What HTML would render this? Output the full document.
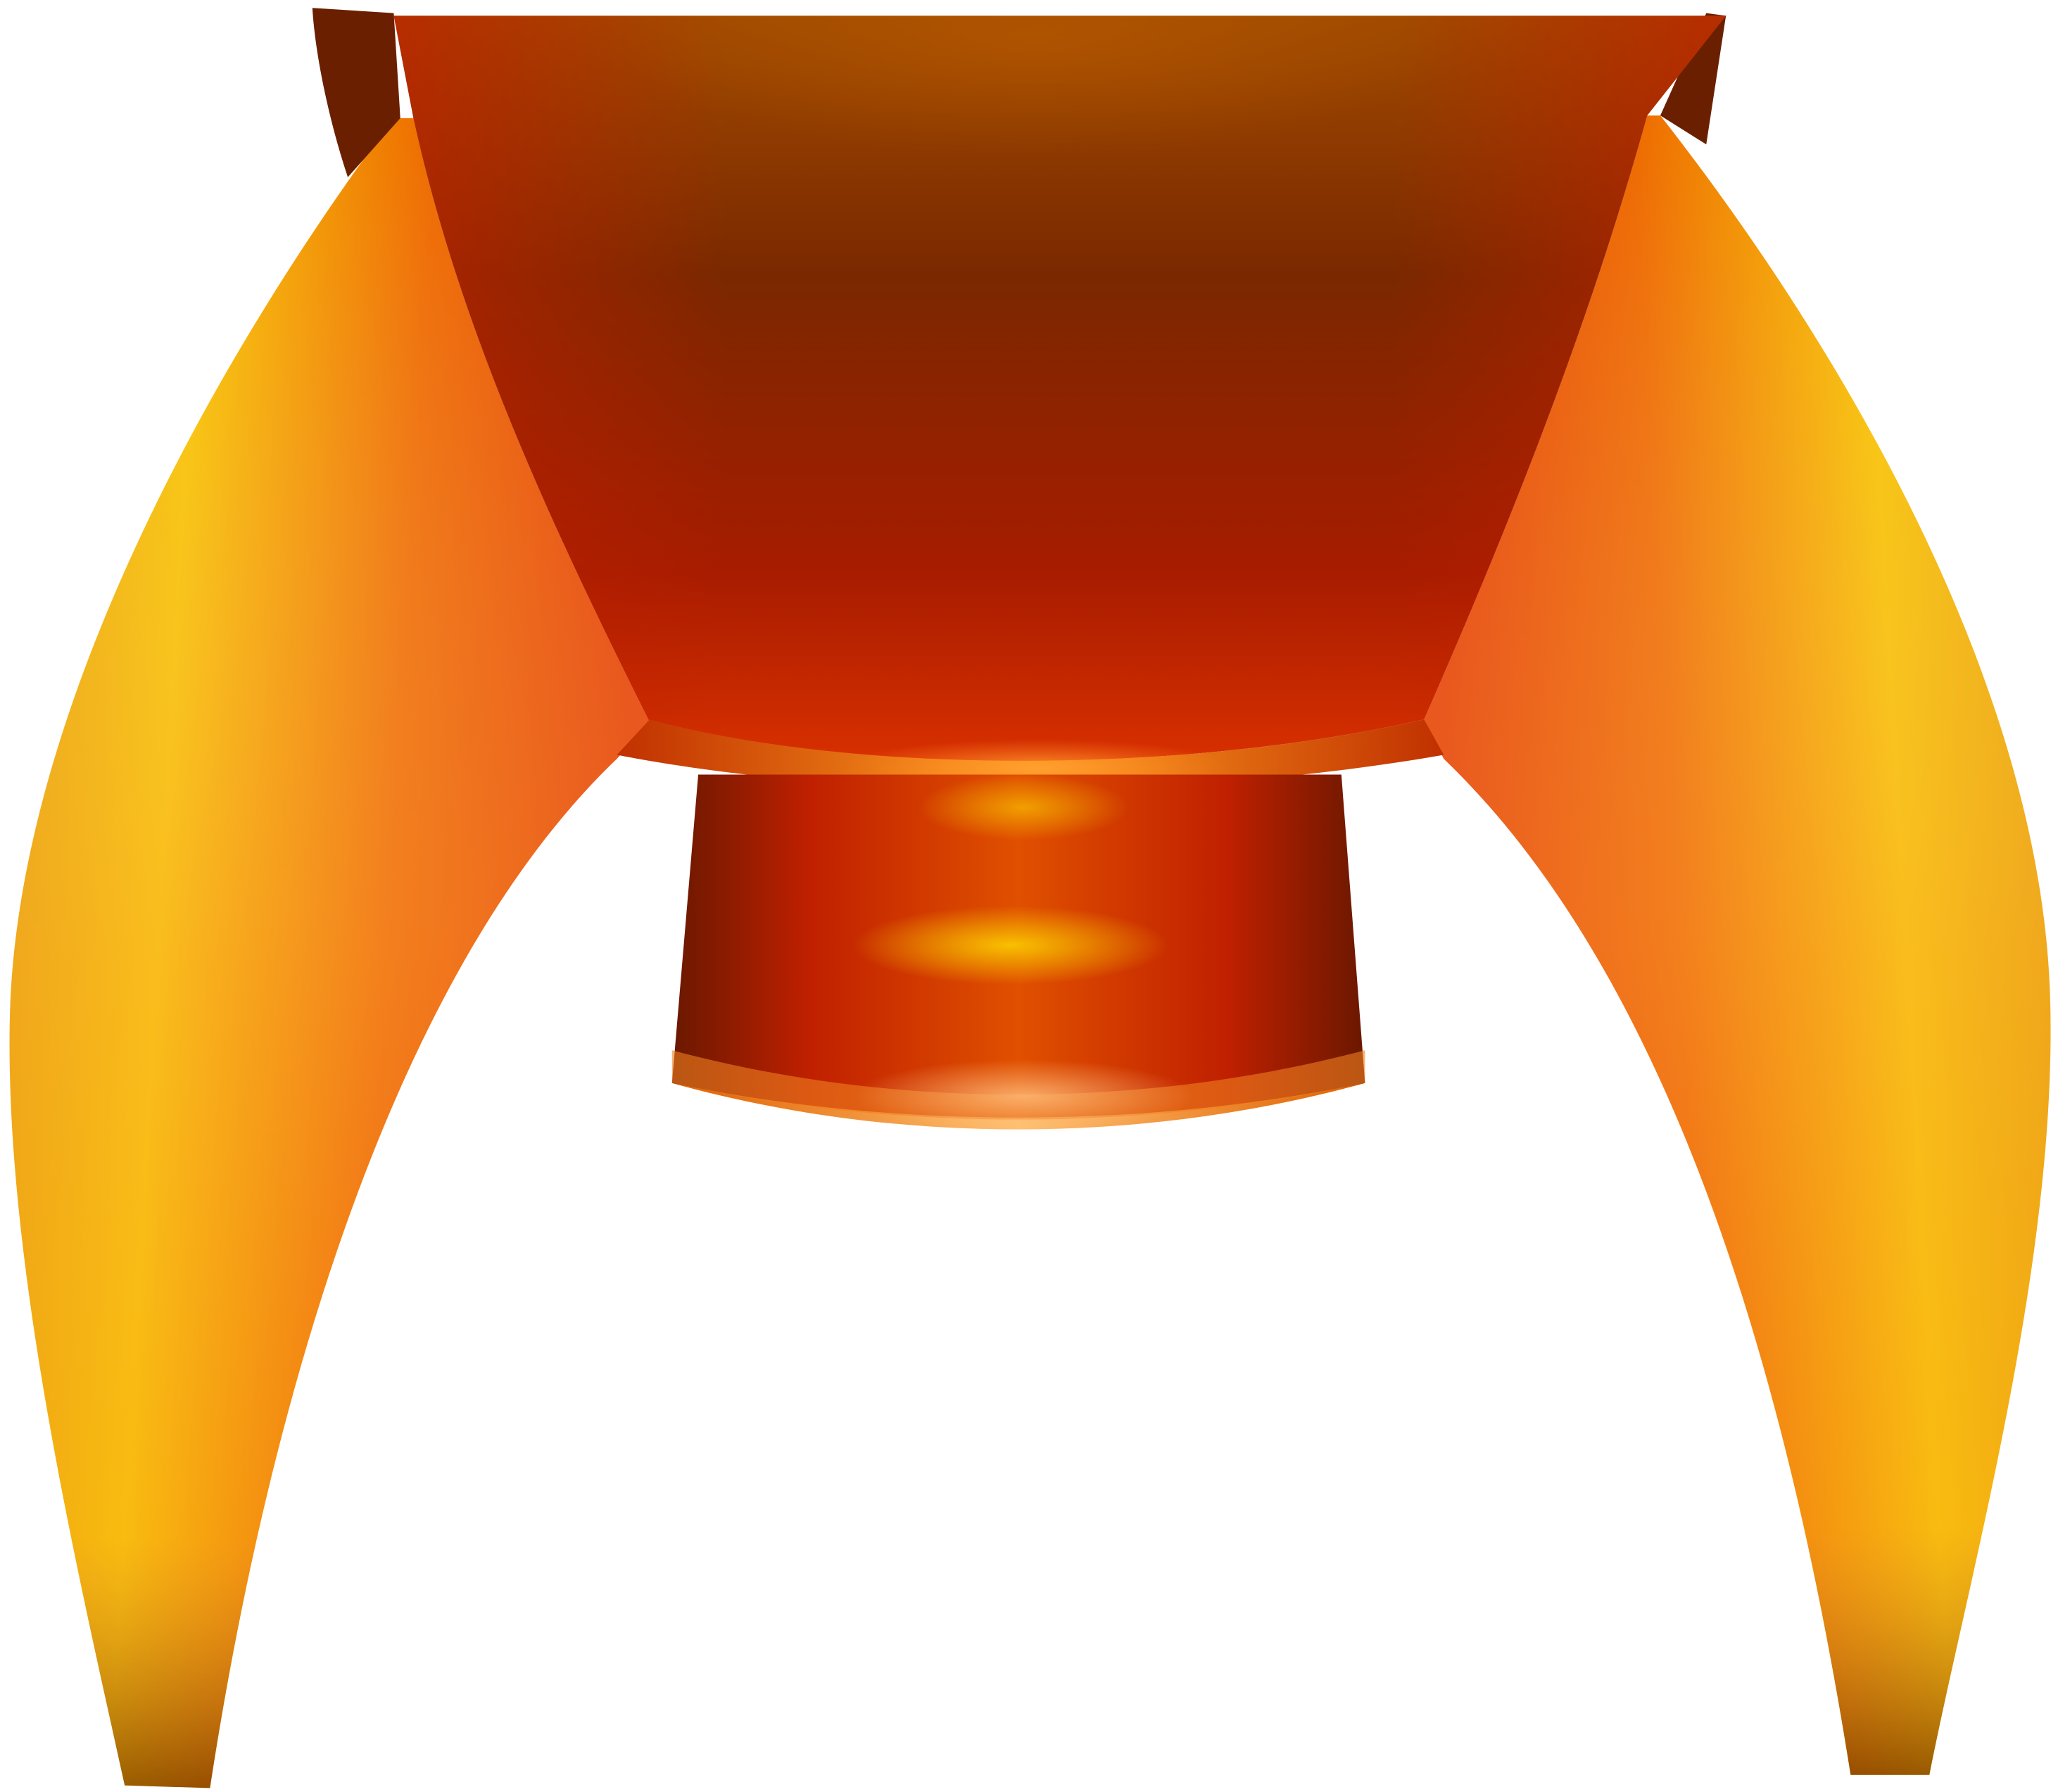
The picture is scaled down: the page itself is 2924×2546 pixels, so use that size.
<!DOCTYPE html>
<html><head><meta charset="utf-8"><style>
html,body{margin:0;padding:0;background:#fff;}
svg{display:block;}
</style></head><body>
<svg width="2924" height="2546" viewBox="0 0 1568 1365" preserveAspectRatio="none" xmlns="http://www.w3.org/2000/svg">
<defs>
<linearGradient id="legL" x1="0" y1="0" x2="1" y2="0.15">
<stop offset="0" stop-color="#7a2a00"/>
<stop offset="0.04" stop-color="#e8a000"/>
<stop offset="0.3" stop-color="#f7c200"/>
<stop offset="0.65" stop-color="#ee6a00"/>
<stop offset="1" stop-color="#e33a00"/>
</linearGradient>
<linearGradient id="legR" x1="1" y1="0" x2="0" y2="0.15">
<stop offset="0" stop-color="#7a2a00"/>
<stop offset="0.04" stop-color="#e8a000"/>
<stop offset="0.3" stop-color="#f7c200"/>
<stop offset="0.65" stop-color="#ee6a00"/>
<stop offset="1" stop-color="#e33a00"/>
</linearGradient>
<linearGradient id="legFade" x1="0" y1="0" x2="0" y2="1">
<stop offset="0" stop-color="#fff" stop-opacity="0"/>
<stop offset="0.5" stop-color="#ffb060" stop-opacity="0.3"/>
<stop offset="0.85" stop-color="#ffa050" stop-opacity="0.2"/>
<stop offset="1" stop-color="#5a1a00" stop-opacity="0.6"/>
</linearGradient>
<linearGradient id="bowl" x1="0" y1="0" x2="0" y2="1">
<stop offset="0" stop-color="#a04a00"/>
<stop offset="0.35" stop-color="#7a2800"/>
<stop offset="0.75" stop-color="#a81c00"/>
<stop offset="1" stop-color="#d83000"/>
</linearGradient>
<linearGradient id="bowlSide" x1="0" y1="0" x2="1" y2="0">
<stop offset="0" stop-color="#c02000" stop-opacity="0.7"/>
<stop offset="0.25" stop-color="#c02000" stop-opacity="0"/>
<stop offset="0.75" stop-color="#c02000" stop-opacity="0"/>
<stop offset="1" stop-color="#c02000" stop-opacity="0.7"/>
</linearGradient>
<linearGradient id="rim" x1="0" y1="0" x2="1" y2="0">
<stop offset="0" stop-color="#c03000"/>
<stop offset="0.5" stop-color="#ffa020"/>
<stop offset="1" stop-color="#c03000"/>
</linearGradient>
<linearGradient id="cyl" x1="0" y1="0" x2="1" y2="0">
<stop offset="0" stop-color="#6a1800"/>
<stop offset="0.2" stop-color="#c02000"/>
<stop offset="0.5" stop-color="#e05000"/>
<stop offset="0.8" stop-color="#c02000"/>
<stop offset="1" stop-color="#6a1800"/>
</linearGradient>
<radialGradient id="glow" cx="0.5" cy="0.5" r="0.5">
<stop offset="0" stop-color="#f8c000"/>
<stop offset="1" stop-color="#f8c000" stop-opacity="0"/>
</radialGradient>
<radialGradient id="glowO" cx="0.5" cy="0.5" r="0.5">
<stop offset="0" stop-color="#ffa030"/>
<stop offset="1" stop-color="#ff8020" stop-opacity="0"/>
</radialGradient>
<radialGradient id="glowP" cx="0.5" cy="0.5" r="0.5">
<stop offset="0" stop-color="#ffc080"/>
<stop offset="1" stop-color="#ffc080" stop-opacity="0"/>
</radialGradient>
<radialGradient id="glowTop" cx="0.5" cy="0.5" r="0.5">
<stop offset="0" stop-color="#c06000" stop-opacity="0.5"/>
<stop offset="1" stop-color="#c06000" stop-opacity="0"/>
</radialGradient>
<linearGradient id="cylBot" x1="0" y1="0" x2="1" y2="0">
<stop offset="0" stop-color="#e06000"/>
<stop offset="0.5" stop-color="#ffc070"/>
<stop offset="1" stop-color="#e06000"/>
</linearGradient>
<clipPath id="bowlClip"><path d="M300,12 L1315,12 L1255,88 C1210,250 1150,400 1085,548 C900,590 650,590 495,550 C420,400 350,250 315,90 Z"/></clipPath>
</defs>

<path d="M300,90 C180,250 20,520 8,760 C0,950 60,1200 95,1360 L160,1362 C200,1100 290,750 470,578 L495,550 C420,400 350,250 315,90 Z" fill="url(#legL)"/>
<path d="M300,90 C180,250 20,520 8,760 C0,950 60,1200 95,1360 L160,1362 C200,1100 290,750 470,578 L495,550 C420,400 350,250 315,90 Z" fill="url(#legFade)"/>
<path d="M1265,88 C1400,260 1555,520 1562,760 C1568,960 1500,1200 1470,1352 L1410,1352 C1370,1100 1290,760 1100,578 L1085,548 C1150,400 1210,250 1255,88 Z" fill="url(#legR)"/>
<path d="M1265,88 C1400,260 1555,520 1562,760 C1568,960 1500,1200 1470,1352 L1410,1352 C1370,1100 1290,760 1100,578 L1085,548 C1150,400 1210,250 1255,88 Z" fill="url(#legFade)"/>

<path d="M238,6 L300,10 L305,90 L265,135 C250,90 240,40 238,6 Z" fill="#6a2000"/>
<path d="M1300,10 L1315,12 L1300,110 L1265,88 Z" fill="#6a2000"/>

<path d="M300,12 L1315,12 L1255,88 C1210,250 1150,400 1085,548 C900,590 650,590 495,550 C420,400 350,250 315,90 Z" fill="url(#bowl)"/>
<path d="M300,12 L1315,12 L1255,88 C1210,250 1150,400 1085,548 C900,590 650,590 495,550 C420,400 350,250 315,90 Z" fill="url(#bowlSide)"/>
<g clip-path="url(#bowlClip)">
<ellipse cx="790" cy="30" rx="320" ry="90" fill="url(#glowTop)"/>
</g>
<path d="M470,575 L495,548 C650,590 900,590 1085,548 L1100,575 C900,610 650,610 470,575 Z" fill="url(#rim)"/>
<ellipse cx="790" cy="585" rx="150" ry="22" fill="url(#glowO)" opacity="0.9"/>

<path d="M532,590 L1022,590 L1040,825 C870,870 680,870 512,825 Z" fill="url(#cyl)"/>
<ellipse cx="770" cy="720" rx="120" ry="30" fill="url(#glow)"/>
<ellipse cx="780" cy="615" rx="80" ry="25" fill="url(#glow)" opacity="0.7"/>
<path d="M512,825 C680,860 870,860 1040,825 C870,872 680,872 512,825 Z" fill="url(#cylBot)"/>
<path d="M512,800 C680,845 870,845 1040,800 L1040,825 C870,862 680,862 512,825 Z" fill="#f08020" opacity="0.6"/>
<ellipse cx="780" cy="835" rx="130" ry="28" fill="url(#glowP)" opacity="0.8"/>
</svg>
</body></html>
